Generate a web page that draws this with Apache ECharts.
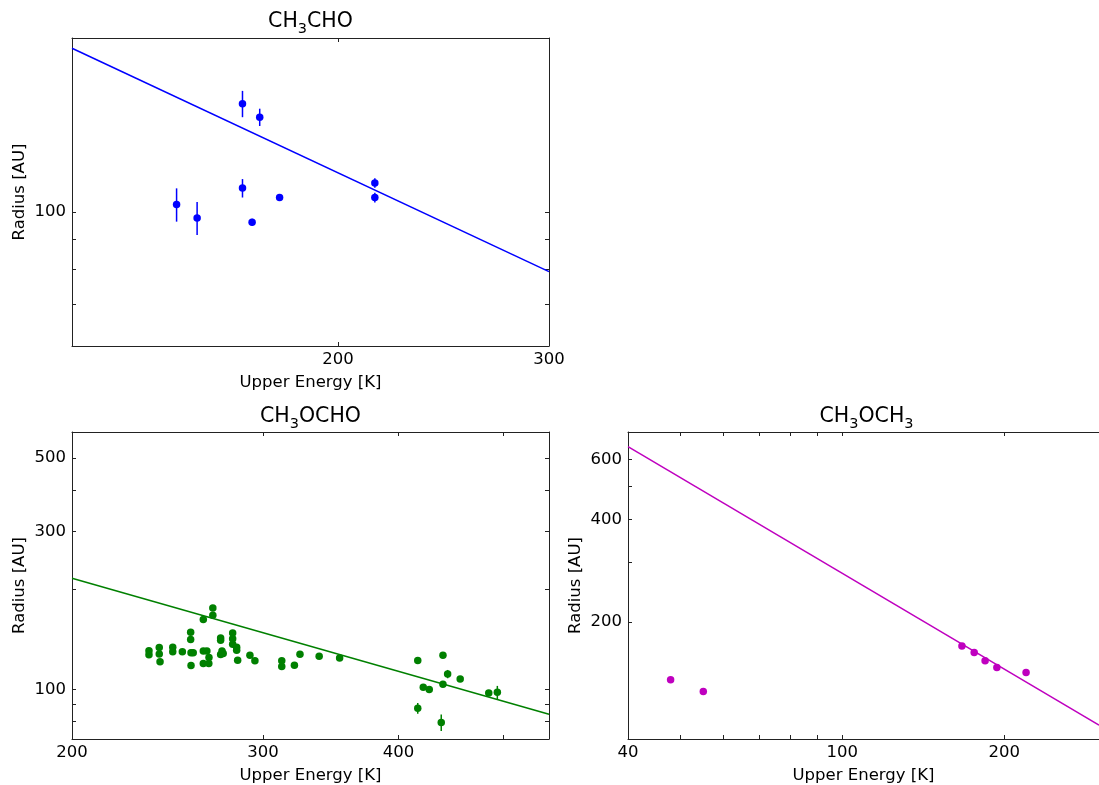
<!DOCTYPE html>
<html><head><meta charset="utf-8">
<script src="https://cdn.jsdelivr.net/npm/echarts@6/dist/echarts.min.js"></script>
<style>html,body{margin:0;padding:0;background:#fff}#c{width:1099px;height:785px}</style>
</head><body><div id="c"></div>
<script>
// ---------- Panel 1: CH3CHO ----------
const energy1 = [146.7, 152.6, 166.5, 166.5, 169.6, 172.1, 178.8, 214.7, 214.7];
const radius1 = [102.9, 97.7, 151.8, 109.6, 96.1, 144.1, 105.7, 111.8, 105.7];
const err1    = [6.6, 6.2, 7.7, 3.9, 1.3, 4.8, 1.0, 2.0, 2.0];
const fitE1 = [120, 300];
const fitR1 = [188, 79.4];
const xTicks1 = [200, 300], xLabels1 = [200, 300];
const yTicks1 = [70, 80, 90, 100], yLabels1 = [100];

// ---------- Panel 2: CH3OCHO ----------
const energy2 = [235.5, 235.5, 240.7, 240.7, 241.1, 247.7, 247.7, 252.8, 257.3, 257.3,
  257.5, 258.7, 257.5, 264.3, 269.7, 269.7, 264.3, 266.3, 267.5, 264.3,
  267.4, 274.2, 274.2, 275.0, 275.7, 274.2, 281.3, 281.3, 281.3, 283.7,
  283.7, 284.3, 291.8, 294.9, 312.2, 312.2, 320.7, 324.5, 338.0, 353.0,
  416.7, 439.6, 444.0, 456.0, 421.6, 427.0, 439.6, 416.7, 438.0, 484.5, 493.4];
const radius2 = [130.8, 127.2, 133.7, 127.8, 121.1, 133.9, 129.8, 129.8, 148.8, 141.3,
  128.9, 128.9, 118.0, 162.4, 175.9, 167.3, 130.6, 130.6, 124.7, 119.7,
  119.7, 142.9, 140.6, 130.6, 128.2, 127.3, 148.0, 142.2, 136.7, 133.9,
  131.2, 122.4, 126.7, 122.0, 121.9, 117.2, 118.3, 127.6, 125.9, 124.3,
  122.2, 126.7, 111.2, 107.4, 101.4, 99.8, 103.5, 87.7, 79.4, 97.5, 97.9];
const err2 = [1, 1, 1, 1, 1, 1, 1, 1, 1, 1,
  1, 1, 1, 1, 1, 1, 1, 1, 1, 1,
  1, 1, 1, 1, 1, 1, 1, 1, 1, 1,
  1, 1, 1, 1, 1, 1, 1, 1, 1, 1,
  1.5, 1.5, 3.2, 1.5, 1, 1, 1, 3.3, 4.5, 1.5, 4.5];
const fitE2 = [200, 550.6];
const fitR2 = [216.4, 84.1];
const xTicks2 = [200, 300, 400, 500], xLabels2 = [200, 300, 400];
const yTicks2 = [80, 90, 100, 200, 300, 400, 500], yLabels2 = [100, 300, 500];

// ---------- Panel 3: CH3OCH3 ----------
const energy3 = [48.0, 55.2, 166.9, 175.9, 184.3, 193.8, 219.6];
const radius3 = [135.1, 124.6, 169.8, 162.3, 153.5, 146.7, 141.9];
const fitE3 = [40, 300];
const fitR3 = [655, 99.3];
const xTicks3 = [40, 50, 60, 70, 80, 90, 100, 200], xLabels3 = [40, 100, 200];
const yTicks3 = [200, 300, 400, 500, 600], yLabels3 = [200, 400, 600];

const FONT = 'DejaVu Sans';
const AXC = '#222';

function xAxes(gi, min, max, ticks, labels) {
  const common = {
    type: 'log', logBase: 10, gridIndex: gi, min: min, max: max,
    splitLine: {show: false}, minorTick: {show: false}, minorSplitLine: {show: false},
    axisLine: {show: true, onZero: false, lineStyle: {color: AXC, width: 1}},
    axisTick: {show: true, inside: true, length: 4, customValues: ticks, lineStyle: {color: AXC, width: 1}}
  };
  return [
    Object.assign({}, common, {
      position: 'bottom',
      axisLabel: {show: true, customValues: labels, color: '#000', fontSize: 16.5, fontFamily: FONT,
        margin: 5, showMinLabel: true, showMaxLabel: true, hideOverlap: false},
      name: 'Upper Energy [K]', nameLocation: 'middle', nameGap: 28,
      nameTextStyle: {color: '#000', fontSize: 16.5, fontFamily: FONT}
    }),
    Object.assign({}, common, {position: 'top', axisLabel: {show: false}})
  ];
}
function yAxes(gi, min, max, ticks, labels, showRight) {
  const common = {
    type: 'log', logBase: 10, gridIndex: gi, min: min, max: max,
    splitLine: {show: false}, minorTick: {show: false}, minorSplitLine: {show: false},
    axisLine: {show: true, onZero: false, lineStyle: {color: AXC, width: 1}},
    axisTick: {show: true, inside: true, length: 4, customValues: ticks, lineStyle: {color: AXC, width: 1}}
  };
  const right = Object.assign({}, common, {position: 'right', axisLabel: {show: false}});
  if (!showRight) {
    right.axisLine = {show: false};
    right.axisTick = {show: false};
  }
  return [
    Object.assign({}, common, {
      position: 'left',
      axisLabel: {show: true, customValues: labels, color: '#000', fontSize: 16.5, fontFamily: FONT,
        margin: 6, showMinLabel: true, showMaxLabel: true, hideOverlap: false},
      name: 'Radius [AU]', nameLocation: 'middle', nameGap: 44,
      nameTextStyle: {color: '#000', fontSize: 16.5, fontFamily: FONT}
    }),
    right
  ];
}

function pts(E, R) { return E.map((e, i) => [e, R[i]]); }
function scatter(E, R, color, ai) {
  return {type: 'scatter', xAxisIndex: ai, yAxisIndex: ai, data: pts(E, R), symbol: 'circle', symbolSize: 7.5,
    itemStyle: {color: color, opacity: 1}, z: 3, silent: true};
}
function errBars(E, R, err, color, ai) {
  return {type: 'custom', xAxisIndex: ai, yAxisIndex: ai, silent: true, z: 2,
    data: E.map((e, i) => [e, R[i] - err[i], R[i] + err[i]]),
    encode: {x: 0, y: [1, 2]},
    renderItem: function (params, api) {
      const a = api.coord([api.value(0), api.value(1)]);
      const b = api.coord([api.value(0), api.value(2)]);
      return {type: 'line', shape: {x1: a[0], y1: a[1], x2: b[0], y2: b[1]},
        style: {stroke: color, lineWidth: 1.5}};
    }};
}
function fit(E, R, color, ai) {
  return {type: 'line', xAxisIndex: ai, yAxisIndex: ai, data: pts(E, R), showSymbol: false, symbol: 'none',
    lineStyle: {color: color, width: 1.5}, z: 1, silent: true, clip: true, animation: false};
}

const BLUE = '#0000ff', GREEN = '#008000', MAG = '#bf00bf';
const xs = [].concat(
  xAxes(0, 120, 300, xTicks1, xLabels1),
  xAxes(1, 200, 550.6, xTicks2, xLabels2),
  xAxes(2, 40, 300, xTicks3, xLabels3));
const ys = [].concat(
  yAxes(0, 59.6, 195.6, yTicks1, yLabels1, true),
  yAxes(1, 70.8, 598, yTicks2, yLabels2, true),
  yAxes(2, 90.4, 723, yTicks3, yLabels3, false));

function title(x, y, parts) {
  return {type: 'text', x: x, y: y, silent: true, z: 10,
    style: {text: parts, align: 'center', verticalAlign: 'middle', fill: '#000',
      rich: {
        n: {fontSize: 20.5, fontFamily: FONT, fill: '#000', lineHeight: 22},
        s: {fontSize: 14.5, fontFamily: FONT, fill: '#000', verticalAlign: 'bottom', lineHeight: 14, padding: [0, 0, -4, 0]}
      }}};
}

const chart = echarts.init(document.getElementById('c'), null, {renderer: 'canvas'});
chart.setOption({
  animation: false,
  backgroundColor: '#fff',
  grid: [
    {left: 72, top: 38, width: 477, height: 308, containLabel: false},
    {left: 72, top: 432, width: 477, height: 309, containLabel: false},
    {left: 628, top: 432, width: 477, height: 309, containLabel: false}
  ],
  xAxis: xs,
  yAxis: ys,
  series: [
    fit(fitE1, fitR1, BLUE, 0), errBars(energy1, radius1, err1, BLUE, 0), scatter(energy1, radius1, BLUE, 0),
    fit(fitE2, fitR2, GREEN, 2), errBars(energy2, radius2, err2, GREEN, 2), scatter(energy2, radius2, GREEN, 2),
    fit(fitE3, fitR3, MAG, 4), scatter(energy3, radius3, MAG, 4)
  ],
  graphic: [
    title(310.5, 22, '{n|CH}{s|3}{n|CHO}'),
    title(310.5, 417, '{n|CH}{s|3}{n|OCHO}'),
    title(866.5, 417, '{n|CH}{s|3}{n|OCH}{s|3}')
  ]
});
</script></body></html>
